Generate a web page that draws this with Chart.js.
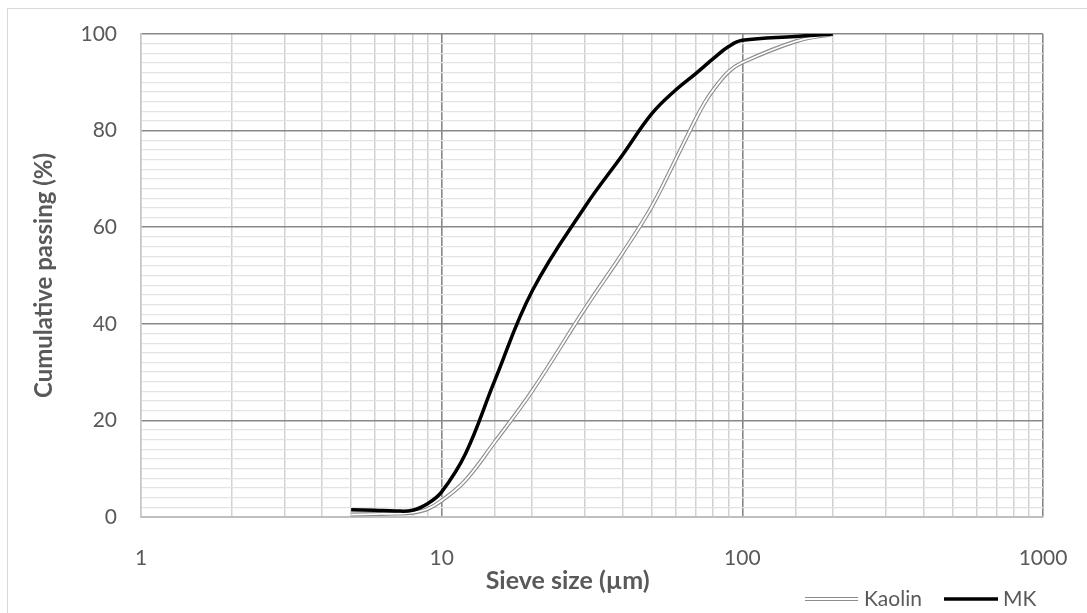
<!DOCTYPE html>
<html>
<head>
<meta charset="utf-8">
<script src="https://cdn.jsdelivr.net/npm/chart.js@4.4.1/dist/chart.umd.min.js"></script>
<style>
  html, body { margin: 0; padding: 0; background: #fff; }
  #wrap { width: 1087px; height: 613px; }
</style>
</head>
<body>
<div id="wrap"><canvas id="psdChart" width="1087" height="613"></canvas></div>
<script>
// Sieve sizes (µm) and cumulative passing (%)
const sizes  = [5, 6, 7, 8, 9, 10, 12, 15, 20, 30, 40, 50, 60, 70, 75, 80, 90, 100, 150, 200];
const kaolin = [0.5, 0.6, 0.7, 0.9, 1.7, 3.4, 7.6, 15.5, 26.1, 43.2, 54.7, 64.3, 74.0, 82.4, 85.8, 88.4, 92.2, 94.1, 98.45, 100];
const mk     = [1.5, 1.4, 1.25, 1.4, 2.8, 5.2, 13.1, 28.2, 46.8, 64.3, 75.0, 83.5, 88.4, 91.8, 93.4, 94.9, 97.4, 98.7, 99.5, 100];

const seriesNames = ['Kaolin', 'MK'];
const xTitle = 'Sieve size (µm)';
const yTitle = 'Cumulative passing (%)';

const textGrey = '#595959';
const fontFam = 'Lato, "Open Sans", sans-serif';

function toPoints(ys) {
  return sizes.map((s, i) => ({ x: s, y: ys[i] }));
}

function isDecade(v) {
  const l = Math.log10(v);
  return Math.abs(l - Math.round(l)) < 1e-9;
}

// white background + light chart frame
const framePlugin = {
  id: 'frame',
  beforeDraw(chart) {
    const c = chart.ctx;
    c.save();
    c.fillStyle = '#ffffff';
    c.fillRect(0, 0, chart.width, chart.height);
    c.strokeStyle = '#d9d9d9';
    c.lineWidth = 1;
    c.strokeRect(7.5, 8.5, chart.width, chart.height);
    c.restore();
  }
};

// legend bottom right: Kaolin as double line, MK as black line
const legendPlugin = {
  id: 'xlLegend',
  afterDraw(chart) {
    const c = chart.ctx;
    const y = 599;
    c.save();
    c.font = '21px ' + fontFam;
    c.fillStyle = textGrey;
    c.textBaseline = 'middle';
    // Kaolin
    c.strokeStyle = '#8c8c8c';
    c.lineWidth = 4;
    c.beginPath(); c.moveTo(805, y); c.lineTo(858, y); c.stroke();
    c.strokeStyle = '#ffffff';
    c.lineWidth = 1.8;
    c.beginPath(); c.moveTo(805, y); c.lineTo(858, y); c.stroke();
    c.fillText(seriesNames[0], 864, y);
    // MK
    c.strokeStyle = '#000000';
    c.lineWidth = 3.5;
    c.beginPath(); c.moveTo(944, y); c.lineTo(998, y); c.stroke();
    c.fillText(seriesNames[1], 1003, y);
    c.restore();
  }
};

const ctx = document.getElementById('psdChart').getContext('2d');
const psdChart = new Chart(ctx, {
  type: 'line',
  data: {
    datasets: [
      {
        label: seriesNames[1],
        data: toPoints(mk),
        borderColor: '#000000',
        borderWidth: 3.5,
        pointRadius: 0,
        tension: 0.4,
        fill: false
      },
      {
        label: seriesNames[0] + ' inner',
        data: toPoints(kaolin),
        borderColor: '#ffffff',
        borderWidth: 1.8,
        pointRadius: 0,
        tension: 0.4,
        fill: false
      },
      {
        label: seriesNames[0],
        data: toPoints(kaolin),
        borderColor: '#8c8c8c',
        borderWidth: 4,
        pointRadius: 0,
        tension: 0.4,
        fill: false
      }
    ]
  },
  options: {
    responsive: false,
    animation: false,
    events: [],
    layout: { padding: { left: 7, top: 34, right: 44, bottom: 0 } },
    plugins: {
      legend: { display: false },
      tooltip: { enabled: false }
    },
    scales: {
      x: {
        type: 'logarithmic',
        min: 1,
        max: 1000,
        afterFit: (scale) => {
          scale.height = 96;
          scale.paddingLeft = 0;
          scale.paddingRight = 0;
        },
        grid: {
          drawTicks: false,
          color: (c) => (c.index === 0 ? '#c8c8c8' : (isDecade(c.tick.value) ? '#888888' : '#d2d2d2')),
          lineWidth: (c) => (isDecade(c.tick.value) ? 1.6 : 1.5)
        },
        border: { color: '#bfbfbf', width: 2 },
        ticks: {
          autoSkip: false,
          maxRotation: 0,
          padding: 29,
          color: textGrey,
          font: { family: fontFam, size: 21 },
          callback: (v) => (isDecade(v) ? String(Math.round(v)) : '')
        },
        title: {
          display: true,
          text: xTitle + '        ',
          color: textGrey,
          font: { family: fontFam, size: 25, weight: 'bold' },
          padding: { top: 0, bottom: 17 }
        }
      },
      y: {
        min: 0,
        max: 100,
        afterFit: (scale) => {
          scale.width = 134;
          scale.paddingTop = 0;
          scale.paddingBottom = 0;
        },
        grid: {
          drawTicks: false,
          color: (c) => (c.tick.value % 20 === 0 ? '#888888' : '#e3e3e3'),
          lineWidth: (c) => (c.tick.value % 20 === 0 ? 1.6 : 1.2)
        },
        border: { color: '#c8c8c8', width: 1.5 },
        ticks: {
          stepSize: 2,
          autoSkip: false,
          padding: 24,
          color: textGrey,
          font: { family: fontFam, size: 21 },
          callback: (v) => (v % 20 === 0 ? String(v) : '')
        },
        title: {
          display: true,
          text: yTitle,
          color: textGrey,
          font: { family: fontFam, size: 24, weight: 'bold' },
          padding: { top: 23, bottom: 0 }
        }
      }
    }
  },
  plugins: [framePlugin, legendPlugin]
});
</script>
</body>
</html>
